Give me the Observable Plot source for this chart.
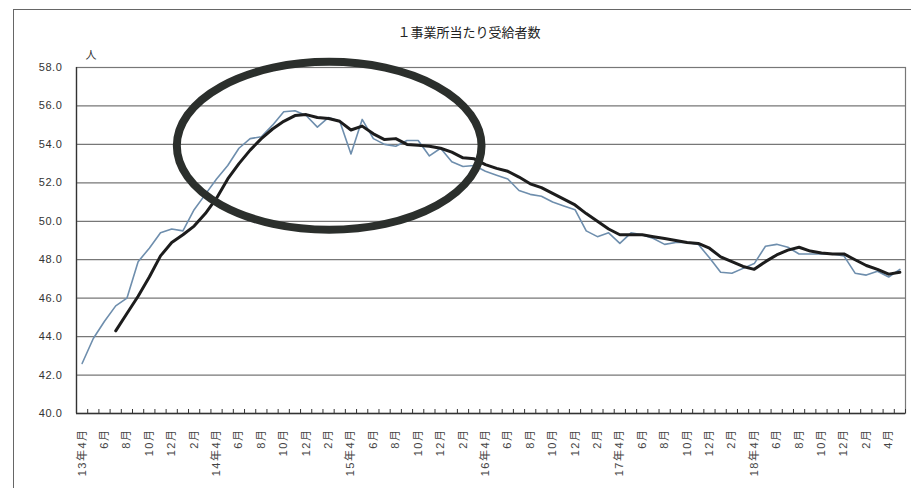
<!DOCTYPE html>
<html><head><meta charset="utf-8">
<script src="https://cdn.jsdelivr.net/npm/d3@7"></script>
<script src="https://cdn.jsdelivr.net/npm/@observablehq/plot@0.6"></script>
<style>
body{margin:0;background:#fff;}
svg{font-family:"Liberation Sans","Noto Sans CJK JP",sans-serif;}
</style>
</head><body><div id="chart"></div>
<script>
const title = "１事業所当たり受給者数";
const unit = "人";
const tickLabels = [
  "13年4月","6月","8月","10月","12月","2月",
  "14年4月","6月","8月","10月","12月","2月",
  "15年4月","6月","8月","10月","12月","2月",
  "16年4月","6月","8月","10月","12月","2月",
  "17年4月","6月","8月","10月","12月","2月",
  "18年4月","6月","8月","10月","12月","2月",
  "4月"
];
const yTicks = [40,42,44,46,48,50,52,54,56,58];
// monthly value (13年4月 .. 19年5月)
const monthly = [
  42.6,43.9,44.8,45.6,46.0,47.9,48.6,49.4,49.6,49.5,
  50.6,51.4,52.2,52.9,53.8,54.3,54.4,55.0,55.7,55.75,
  55.5,54.9,55.4,55.2,53.5,55.3,54.3,54.0,53.9,54.2,
  54.2,53.4,53.8,53.1,52.85,52.9,52.6,52.4,52.2,51.6,
  51.4,51.3,51.0,50.8,50.6,49.5,49.2,49.4,48.85,49.4,
  49.3,49.1,48.8,48.9,48.9,48.8,48.1,47.35,47.3,47.55,
  47.8,48.7,48.8,48.65,48.3,48.3,48.3,48.3,48.2,47.3,
  47.2,47.4,47.1,47.5
];
// moving average
const average = [
  null,null,null,44.3,45.2,46.1,47.1,48.2,48.9,49.3,
  49.75,50.4,51.2,52.2,53.0,53.7,54.3,54.8,55.2,55.5,
  55.55,55.4,55.35,55.2,54.75,54.95,54.55,54.25,54.3,54.0,
  53.95,53.9,53.8,53.6,53.3,53.25,52.95,52.75,52.6,52.3,
  51.95,51.75,51.45,51.15,50.85,50.4,50.0,49.6,49.3,49.3,
  49.3,49.2,49.1,49.0,48.9,48.85,48.6,48.15,47.9,47.65,
  47.5,47.9,48.25,48.5,48.65,48.45,48.35,48.3,48.3,48.0,
  47.7,47.5,47.25,47.35
];
// hand-drawn highlight ellipse (in data units)
const highlight = {month: 22.1, value: 53.9, monthRadius: 13.6, valueRadius: 4.37};

const data = monthly.map((v, i) => ({i, monthly: v, average: average[i]}));
const n = monthly.length;
const labelIdx = tickLabels.map((_, k) => k * 2);
const boundaries = d3.range(n + 1).map(k => k - 0.5);

const chart = Plot.plot({
  width: 911, height: 488,
  marginLeft: 76, marginRight: 6, marginTop: 67, marginBottom: 75,
  x: {type: "linear", domain: [-0.5, n - 0.5], label: null},
  y: {domain: [40, 58], label: null},
  marks: [
    Plot.gridY(yTicks, {stroke: "#777", strokeOpacity: 1, strokeWidth: 1.2}),
    Plot.frame({stroke: "#777", strokeWidth: 1.2}),
    Plot.axisY(yTicks, {tickSize: 0, tickPadding: 14, tickFormat: d => d.toFixed(1), fontSize: 11, fill: "#333", label: null}),
    Plot.ruleX([-0.5], {stroke: "#333", strokeWidth: 1.3}),
    Plot.ruleY([40], {stroke: "#333", strokeWidth: 1.3}),
    Plot.axisX(boundaries, {tickSize: -4, tickFormat: () => "", stroke: "#333", label: null}),
    Plot.axisX(labelIdx, {tickSize: 0, tickRotate: -90, tickPadding: 15, tickFormat: d => tickLabels[d / 2], fontSize: 11, fill: "#444", label: null}),
    Plot.line(data, {x: "i", y: "monthly", stroke: "#6e8ead", strokeWidth: 1.6}),
    Plot.line(data.filter(d => d.average != null), {x: "i", y: "average", stroke: "#1c1c1c", strokeWidth: 3, strokeLinejoin: "round"}),
    Plot.text([title], {frameAnchor: "top", dx: -22, dy: -40, fontSize: 13, fill: "#222"}),
    Plot.text([unit], {frameAnchor: "top-left", dx: 9, dy: -16, fontSize: 11, fill: "#333"})
  ]
});

const sx = chart.scale("x"), sy = chart.scale("y");
const svg = d3.select(chart);
svg.selectAll("text").filter(function() {
  const t = this.getAttribute("transform") || "";
  return t.includes("rotate");
}).style("letter-spacing", "1.5px");
svg.selectAll("text").filter(function() {
  return /^\d+\.0$/.test(this.textContent);
}).style("letter-spacing", "0.6px");
const cx = sx.apply(highlight.month), cy = sy.apply(highlight.value);
const rx = sx.apply(highlight.month + highlight.monthRadius) - cx;
const ry = sy.apply(highlight.value - highlight.valueRadius) - cy;
svg.append("ellipse").attr("cx", cx).attr("cy", cy).attr("rx", rx).attr("ry", ry)
  .attr("fill", "none").attr("stroke", "#2b2f2c").attr("stroke-width", 8);
svg.append("rect").attr("x", 13.5).attr("y", 9.5).attr("width", 920).attr("height", 500)
  .attr("fill", "none").attr("stroke", "#666").attr("stroke-width", 1);

document.getElementById("chart").appendChild(chart);
</script>
</body></html>
